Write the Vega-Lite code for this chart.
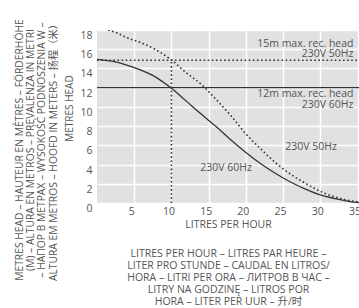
{
  "$schema": "https://vega.github.io/schema/vega-lite/v6.json",
  "width": 262,
  "height": 173,
  "autosize": {"type": "none"},
  "padding": {"left": 97, "top": 30, "right": 0, "bottom": 105},
  "config": {
    "font": "Open Sans, Noto Sans CJK SC",
    "view": {"fill": "#e1e1e1", "stroke": null},
    "axis": {
      "labelFont": "Open Sans",
      "titleFont": "Open Sans, Noto Sans CJK SC",
      "labelFontSize": 10.5,
      "labelColor": "#555555",
      "titleColor": "#555555",
      "titleFontWeight": "normal",
      "grid": true,
      "gridColor": "#ffffff",
      "gridWidth": 1.5,
      "domain": false,
      "ticks": false,
      "labelFlush": false,
      "labelOverlap": false
    },
    "title": {"font": "Open Sans, Noto Sans CJK SC"}
  },
  "title": {
    "text": [
      "METRES HEAD – HAUTEUR EN MÈTRES – FÖRDERHÖHE",
      "(M) – ALTURA EN METROS – PREVALENZA IN METRI",
      "– НАПОР В МЕТРАХ – WYSOKOŚĆ PODNOSZENIA W –",
      "ALTURA EM METROS – HOOFD IN METERS – 扬程（米）"
    ],
    "orient": "left",
    "anchor": "middle",
    "frame": "group",
    "fontSize": 10.3,
    "fontWeight": "normal",
    "color": "#555555",
    "lineHeight": 11.3,
    "offset": 6,
    "dx": -33.5
  },
  "datasets": {
    "curve60": [
      {"q": 0, "h": 14.95}, {"q": 2, "h": 14.75}, {"q": 4, "h": 14.35}, {"q": 6, "h": 13.8},
      {"q": 8, "h": 13.05}, {"q": 10, "h": 11.93}, {"q": 12, "h": 10.6}, {"q": 14, "h": 9.25},
      {"q": 16, "h": 7.95}, {"q": 18, "h": 6.55}, {"q": 20, "h": 5.25}, {"q": 22, "h": 4.08},
      {"q": 24, "h": 3.07}, {"q": 26, "h": 2.18}, {"q": 28, "h": 1.44}, {"q": 30, "h": 0.84},
      {"q": 32, "h": 0.45}, {"q": 34, "h": 0.14}, {"q": 35.2, "h": 0.03}
    ],
    "curve50": [
      {"q": 1.5, "h": 18}, {"q": 2.5, "h": 17.75}, {"q": 4, "h": 17.2}, {"q": 6, "h": 16.65},
      {"q": 8, "h": 15.9}, {"q": 10, "h": 14.88}, {"q": 12, "h": 13.55}, {"q": 14, "h": 12.35},
      {"q": 16, "h": 10.78}, {"q": 18, "h": 9.07}, {"q": 20, "h": 7.19}, {"q": 22, "h": 5.62},
      {"q": 24, "h": 4.18}, {"q": 26, "h": 3.0}, {"q": 28, "h": 2.05}, {"q": 30, "h": 1.22},
      {"q": 32, "h": 0.62}, {"q": 34, "h": 0.24}, {"q": 35.2, "h": 0.12}
    ],
    "solidRef": [{"q": 0, "q2": 35.2, "h": 12}],
    "dotRef": [{"q": 0, "q2": 35.2, "h": 14.85}],
    "dotVert": [{"q": 10, "h": 0, "h2": 14.85}],
    "labelsRight": [
      {"q": 34.46, "h": 16.55, "text": "15m max. rec. head"},
      {"q": 34.46, "h": 15.47, "text": "230V 50Hz"},
      {"q": 34.46, "h": 11.34, "text": "12m max. rec. head"},
      {"q": 34.46, "h": 10.2, "text": "230V 60Hz"}
    ],
    "labelsLeft": [
      {"q": 25.3, "h": 5.86, "text": "230V 50Hz"},
      {"q": 13.87, "h": 3.61, "text": "230V 60Hz"}
    ]
  },
  "resolve": {"axis": {"x": "independent"}},
  "layer": [
    {
      "data": {"name": "curve60"},
      "mark": {"type": "line", "interpolate": "monotone", "color": "#333333", "strokeWidth": 1.3},
      "encoding": {
        "x": {
          "field": "q", "type": "quantitative",
          "scale": {"domain": [0, 35.2], "nice": false, "zero": false},
          "axis": {
            "values": [5, 10, 15, 20, 25, 30, 35],
            "tickCount": 7,
            "labelPadding": 3,
            "labelOffset": -3,
            "labelOverlap": false,
            "title": "LITRES PER HOUR",
            "titleFontSize": 10.5,
            "titlePadding": 3
          }
        },
        "y": {
          "field": "h", "type": "quantitative",
          "scale": {"domain": [0, 18], "nice": false, "zero": false},
          "axis": {
            "values": [0, 2, 4, 6, 8, 10, 12, 14, 16, 18],
            "tickCount": 10,
            "labelPadding": 5,
            "labelOffset": 5.5,
            "labelOverlap": false,
            "title": "METRES HEAD",
            "titleFontSize": 10,
            "titlePadding": 5,
            "titleY": 78
          }
        }
      }
    },
    {
      "data": {"name": "curve50"},
      "mark": {"type": "line", "interpolate": "monotone", "color": "#333333", "strokeWidth": 1.6, "strokeDash": [1.6, 2.5], "clip": true},
      "encoding": {
        "x": {
          "field": "q", "type": "quantitative",
          "axis": {
            "orient": "bottom",
            "labels": false,
            "grid": false,
            "ticks": false,
            "domain": false,
            "title": [
              "LITRES PER HOUR – LITRES PAR HEURE –",
              "LITER PRO STUNDE – CAUDAL EN LITROS/",
              "HORA – LITRI PER ORA – ЛИТРОВ В ЧАС –",
              "LITRY NA GODZINĘ – LITROS POR",
              "HORA  – LITER PER UUR – 升/时"
            ],
            "titleFontSize": 10.5,
            "titleLineHeight": 12,
            "titlePadding": 45
          }
        },
        "y": {"field": "h", "type": "quantitative"}
      }
    },
    {
      "data": {"name": "solidRef"},
      "mark": {"type": "rule", "color": "#333333", "strokeWidth": 1.2},
      "encoding": {
        "x": {"field": "q", "type": "quantitative", "axis": null},
        "x2": {"field": "q2"},
        "y": {"field": "h", "type": "quantitative"}
      }
    },
    {
      "data": {"name": "dotRef"},
      "mark": {"type": "rule", "color": "#333333", "strokeWidth": 1.6, "strokeDash": [1.6, 2.5]},
      "encoding": {
        "x": {"field": "q", "type": "quantitative", "axis": null},
        "x2": {"field": "q2"},
        "y": {"field": "h", "type": "quantitative"}
      }
    },
    {
      "data": {"name": "dotVert"},
      "mark": {"type": "rule", "color": "#333333", "strokeWidth": 1.6, "strokeDash": [1.6, 2.5]},
      "encoding": {
        "x": {"field": "q", "type": "quantitative", "axis": null},
        "y": {"field": "h", "type": "quantitative"},
        "y2": {"field": "h2"}
      }
    },
    {
      "data": {"name": "labelsRight"},
      "mark": {"type": "text", "align": "right", "baseline": "middle", "fontSize": 10.5, "color": "#555555", "font": "Open Sans"},
      "encoding": {
        "x": {"field": "q", "type": "quantitative", "axis": null},
        "y": {"field": "h", "type": "quantitative"},
        "text": {"field": "text"}
      }
    },
    {
      "data": {"name": "labelsLeft"},
      "mark": {"type": "text", "align": "left", "baseline": "middle", "fontSize": 10.5, "color": "#555555", "font": "Open Sans"},
      "encoding": {
        "x": {"field": "q", "type": "quantitative", "axis": null},
        "y": {"field": "h", "type": "quantitative"},
        "text": {"field": "text"}
      }
    }
  ]
}
